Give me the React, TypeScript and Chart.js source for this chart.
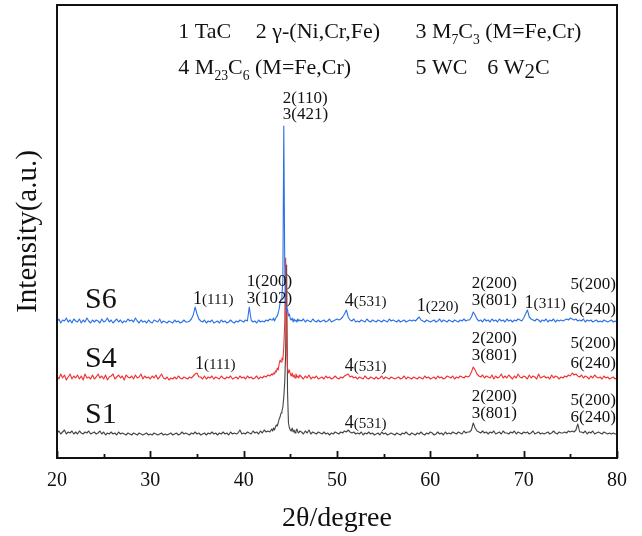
import React, { useEffect, useRef } from 'react';
import { Chart, registerables } from 'chart.js';

Chart.register(...registerables);

const FONT = '"Liberation Serif", "Times New Roman", serif';

// 2θ grid: 0.2° steps, refined to 0.1° around the main reflection
const GRID_SEGMENTS: [number, number, number][] = [
  [20, 43, 0.2],
  [43.1, 46, 0.1],
  [46.2, 80, 0.2],
];

// vertical offsets used to stack the patterns (a.u.)
const OFFSET_S6 = 133;
const OFFSET_S4 = 76;
const OFFSET_S1 = 21;

// ---- S6 (blue) ----
const S6_A = [
  3, 6, 2, 5, 4, 7, 3, 5, 2, 6, // 20.0-21.8
  4, 3, 6, 2, 5, 3, 7, 4, 2, 5, // 22.0-23.8
  3, 5, 4, 2, 6, 3, 4, 7, 3, 5, // 24.0-25.8
  2, 4, 6, 3, 5, 2, 4, 3, 6, 4, // 26.0-27.8
  5, 3, 7, 4, 2, 5, 3, 4, 2, 5, // 28.0-29.8
  3, 2, 5, 4, 3, 6, 2, 4, 3, 2, // 30.0-31.8
  4, 3, 2, 5, 3, 4, 2, 3, 5, 3, // 32.0-33.8
  3, 4, 6, 10, 18, 11, 6, 4, 3, 5, // 34.0-35.8
  2, 4, 3, 5, 2, 3, 4, 2, 5, 3, // 36.0-37.8
  4, 2, 3, 5, 3, 2, 4, 3, 5, 4, // 38.0-39.8
  3, 5, 4, 18, 5, 3, 4, 2, 5, 3, // 40.0-41.8
  4, 3, 5, 4, 6, 5, // 42.0-43.0
];
const S6_B = [
  5, 7, 4, 6, 8, 9, 12, 16, 22, 26, // 43.1-44.0
  30, 45, 199, 60, 22, 14, 16, 9, 11, 6, // 44.1-45.0
  5, 7, 3, 6, 4, 5, 3, 6, 4, 5, // 45.1-46.0
];
const S6_C = [
  4, 6, 3, 5, 4, 3, 6, 4, 3, 5, // 46.2-48.0
  3, 4, 5, 3, 4, 6, 3, 4, 5, 6, // 48.2-50.0
  5, 6, 8, 11, 15, 8, 5, 4, 6, 3, // 50.2-52.0
  4, 3, 5, 4, 3, 6, 4, 3, 5, 4, // 52.2-54.0
  3, 5, 4, 3, 5, 4, 3, 6, 4, 5, // 54.2-56.0
  4, 3, 5, 3, 4, 5, 3, 4, 5, 4, // 56.2-58.0
  5, 4, 6, 8, 5, 4, 3, 5, 4, 3, // 58.2-60.0
  4, 5, 3, 4, 6, 3, 5, 4, 3, 5, // 60.2-62.0
  4, 3, 5, 4, 3, 5, 4, 6, 4, 5, // 62.2-64.0
  5, 8, 13, 10, 6, 4, 5, 3, 6, 4, // 64.2-66.0
  5, 3, 6, 4, 5, 3, 6, 4, 5, 3, // 66.2-68.0
  6, 4, 5, 3, 5, 4, 6, 5, 4, 7, // 68.2-70.0
  11, 15, 8, 6, 5, 4, 6, 5, 3, 5, // 70.2-72.0
  4, 6, 3, 5, 4, 6, 3, 5, 4, 5, // 72.2-74.0
  4, 5, 6, 5, 7, 6, 5, 6, 4, 5, // 74.2-76.0
  4, 6, 3, 5, 4, 5, 3, 4, 5, 3, // 76.2-78.0
  4, 3, 5, 4, 3, 4, 5, 3, 4, 3, // 78.2-80.0
];

// ---- S4 (red) ----
const S4_A = [
  6, 3, 8, 4, 7, 2, 5, 8, 3, 6,
  4, 7, 3, 6, 2, 8, 4, 5, 3, 7,
  3, 5, 8, 4, 6, 3, 7, 2, 5, 6,
  8, 3, 5, 7, 4, 6, 2, 7, 5, 4,
  6, 3, 7, 4, 5, 8, 3, 6, 4, 5,
  3, 6, 4, 7, 3, 5, 8, 4, 3, 5,
  2, 4, 3, 5, 3, 6, 4, 3, 5, 4,
  3, 5, 4, 6, 8, 9, 5, 5, 3, 6,
  3, 5, 4, 6, 3, 5, 4, 3, 6, 4,
  3, 5, 4, 6, 3, 4, 5, 3, 6, 4,
  5, 3, 6, 4, 5, 3, 4, 6, 3, 5,
  4, 6, 5, 7, 6, 8,
];
const S4_B = [
  7, 9, 8, 11, 10, 14, 12, 18, 22, 20,
  24, 22, 35, 60, 124, 38, 14, 9, 12, 8,
  6, 9, 5, 7, 4, 8, 5, 6, 4, 7,
];
const S4_C = [
  5, 3, 6, 4, 7, 3, 5, 4, 6, 3,
  4, 5, 3, 6, 4, 5, 3, 4, 6, 4,
  3, 5, 4, 6, 7, 8, 5, 6, 4, 5,
  3, 5, 4, 3, 6, 4, 3, 5, 4, 3,
  5, 3, 4, 6, 3, 5, 4, 3, 5, 4,
  3, 4, 5, 3, 4, 6, 3, 5, 4, 3,
  5, 4, 3, 5, 4, 3, 6, 4, 5, 3,
  4, 5, 3, 6, 4, 5, 3, 4, 6, 5,
  4, 6, 3, 5, 4, 6, 5, 4, 6, 5,
  6, 10, 15, 12, 8, 6, 5, 7, 4, 6,
  5, 4, 7, 3, 6, 4, 5, 8, 4, 6,
  4, 7, 5, 3, 6, 4, 8, 5, 4, 6,
  5, 3, 7, 4, 6, 5, 3, 8, 4, 5,
  6, 4, 5, 3, 7, 4, 6, 5, 3, 5,
  4, 6, 5, 7, 6, 9, 7, 8, 6, 5,
  7, 4, 6, 5, 3, 6, 4, 7, 5, 4,
  5, 3, 6, 4, 5, 3, 4, 5, 3, 4,
];

// ---- S1 (black) ----
const S1_A = [
  4, 6, 3, 5, 7, 3, 5, 4, 6, 3,
  5, 3, 6, 4, 3, 5, 4, 6, 3, 4,
  5, 3, 4, 6, 3, 5, 2, 4, 3, 5,
  3, 4, 2, 5, 3, 4, 3, 2, 4, 3,
  2, 4, 3, 2, 4, 3, 2, 3, 4, 2,
  3, 2, 4, 3, 2, 3, 4, 2, 3, 2,
  3, 4, 2, 3, 4, 2, 3, 5, 3, 4,
  3, 2, 4, 3, 5, 3, 4, 2, 3, 4,
  2, 4, 3, 5, 3, 4, 2, 4, 3, 5,
  3, 4, 2, 5, 3, 4, 3, 4, 7, 3,
  4, 3, 5, 4, 3, 6, 4, 5, 3, 6,
  4, 7, 5, 6, 5, 8,
];
const S1_B = [
  6, 9, 7, 10, 12, 11, 14, 18, 20, 24,
  26, 30, 40, 55, 85, 172, 45, 14, 9, 7,
  6, 9, 5, 7, 4, 6, 8, 5, 4, 6,
];
const S1_C = [
  5, 3, 6, 4, 7, 3, 5, 4, 3, 5,
  4, 3, 5, 3, 4, 2, 4, 3, 5, 4,
  3, 5, 4, 6, 5, 7, 5, 4, 5, 3,
  4, 3, 5, 2, 4, 3, 5, 3, 4, 2,
  3, 4, 2, 5, 3, 4, 2, 3, 4, 3,
  2, 4, 3, 2, 4, 3, 5, 3, 2, 4,
  3, 2, 4, 3, 5, 3, 2, 4, 3, 5,
  4, 2, 3, 5, 3, 4, 2, 5, 3, 4,
  3, 5, 4, 3, 5, 4, 3, 6, 4, 5,
  5, 7, 14, 9, 6, 5, 4, 6, 4, 5,
  3, 5, 4, 6, 3, 4, 5, 3, 6, 4,
  4, 3, 5, 4, 6, 3, 5, 4, 3, 5,
  4, 5, 3, 4, 6, 3, 4, 5, 3, 4,
  3, 4, 5, 3, 4, 6, 4, 3, 5, 4,
  4, 5, 4, 6, 5, 6, 5, 7, 13, 5,
  5, 4, 6, 3, 5, 4, 6, 3, 4, 5,
  4, 3, 5, 4, 3, 4, 3, 4, 3, 3,
];

const MAJOR_TICKS = [20, 30, 40, 50, 60, 70, 80];
const MINOR_TICKS = [25, 35, 45, 55, 65, 75];

type Part = [string, 'n' | 's' | 'm' | 'S'];
// legend text (theta of left edge, level of vertical centre)
const LEGEND_ITEMS: { theta: number; level: number; parts: Part[] }[] = [
  { theta: 33.0, level: 427, parts: [['1 TaC', 'n']] },
  { theta: 41.3, level: 427, parts: [['2 γ-(Ni,Cr,Fe)', 'n']] },
  { theta: 58.4, level: 427, parts: [['3 M', 'n'], ['7', 's'], ['C', 'n'], ['3', 's'], [' (M=Fe,Cr)', 'n']] },
  { theta: 33.0, level: 391, parts: [['4 M', 'n'], ['23', 's'], ['C', 'n'], ['6', 's'], [' (M=Fe,Cr)', 'n']] },
  { theta: 58.4, level: 391, parts: [['5 WC', 'n']] },
  { theta: 66.1, level: 391, parts: [['6 W', 'n'], ['2', 'S'], ['C', 'n']] },
];

// peak labels: text, theta (left edge), level (centre), style
const PEAK_LABELS: [string, number, number, 'u' | 'd'][] = [
  ['2(110)', 44.2, 361, 'u'], ['3(421)', 44.2, 345, 'u'],
  ['1(111)', 34.56, 160, 'd'],
  ['1(200)', 40.34, 178, 'u'], ['3(102)', 40.34, 161, 'u'],
  ['4(531)', 50.84, 158, 'd'],
  ['1(220)', 58.54, 153, 'd'],
  ['2(200)', 64.43, 176, 'u'], ['3(801)', 64.43, 159, 'u'],
  ['1(311)', 70.1, 156, 'd'],
  ['5(200)', 75.03, 175, 'u'], ['6(240)', 75.03, 150, 'u'],
  ['1(111)', 34.78, 95, 'd'],
  ['4(531)', 50.84, 93, 'd'],
  ['2(200)', 64.43, 121, 'u'], ['3(801)', 64.43, 104, 'u'],
  ['5(200)', 75.03, 116, 'u'], ['6(240)', 75.03, 96, 'u'],
  ['4(531)', 50.84, 36, 'd'],
  ['2(200)', 64.43, 63, 'u'], ['3(801)', 64.43, 46, 'u'],
  ['5(200)', 75.03, 59, 'u'], ['6(240)', 75.03, 42, 'u'],
];

const SAMPLE_LABELS: [string, number, number][] = [
  ['S6', 23.0, 160],
  ['S4', 23.0, 101],
  ['S1', 23.0, 45],
];

function buildGrid(): number[] {
  const out: number[] = [];
  for (const [a, b, s] of GRID_SEGMENTS) {
    const n = Math.round((b - a) / s) + 1;
    for (let i = 0; i < n; i++) out.push(Math.round((a + i * s) * 10) / 10);
  }
  return out;
}

function toPoints(grid: number[], vals: number[], off: number) {
  const n = Math.min(grid.length, vals.length);
  const pts = [];
  for (let i = 0; i < n; i++) pts.push({ x: grid[i], y: vals[i] + off });
  return pts;
}

function drawRich(ctx: CanvasRenderingContext2D, x: number, yc: number, parts: Part[], size: number) {
  let cx = x;
  const base = yc + size * 0.33;
  for (const [t, k] of parts) {
    let fs = size;
    let dy = 0;
    if (k === 's') { fs = size * 0.62; dy = size * 0.25; }
    else if (k === 'S') { fs = size * 0.95; dy = size * 0.18; }
    else if (k === 'm') { fs = size * 0.84; }
    ctx.font = `${fs}px ${FONT}`;
    ctx.fillText(t, cx, base + dy);
    cx += ctx.measureText(t).width;
  }
}

const overlayPlugin = {
  id: 'overlay',
  afterDraw(chart: any) {
    const { ctx, chartArea: a, scales } = chart;
    const xs = scales.x;
    const ys = scales.y;
    ctx.save();
    ctx.strokeStyle = '#111';
    ctx.lineWidth = 2;
    ctx.strokeRect(a.left, a.top, a.right - a.left, a.bottom - a.top);
    ctx.lineWidth = 1.8;
    ctx.beginPath();
    for (const v of MAJOR_TICKS) {
      const px = Math.round(xs.getPixelForValue(v)) + 0.5;
      ctx.moveTo(px, a.bottom);
      ctx.lineTo(px, a.bottom - 7);
    }
    for (const v of MINOR_TICKS) {
      const px = Math.round(xs.getPixelForValue(v)) + 0.5;
      ctx.moveTo(px, a.bottom);
      ctx.lineTo(px, a.bottom - 4);
    }
    ctx.stroke();

    ctx.fillStyle = '#111';
    ctx.textAlign = 'left';
    ctx.textBaseline = 'alphabetic';
    for (const it of LEGEND_ITEMS) {
      drawRich(ctx, xs.getPixelForValue(it.theta), ys.getPixelForValue(it.level), it.parts, 22);
    }
    for (const [t, th, lv, st] of PEAK_LABELS) {
      const parts: Part[] = st === 'u' ? [[t, 'n']] : [[t.slice(0, 1), 'n'], [t.slice(1), 'm']];
      drawRich(ctx, xs.getPixelForValue(th), ys.getPixelForValue(lv), parts, st === 'u' ? 17 : 18);
    }
    for (const [t, th, lv] of SAMPLE_LABELS) {
      drawRich(ctx, xs.getPixelForValue(th), ys.getPixelForValue(lv), [[t, 'n']], 30);
    }
    ctx.restore();
  },
};

export default function App() {
  const ref = useRef<HTMLCanvasElement | null>(null);
  useEffect(() => {
    if (!ref.current) return;
    const grid = buildGrid();
    const chart = new Chart(ref.current, {
      type: 'line',
      data: {
        datasets: [
          { label: 'S6', data: toPoints(grid, [...S6_A, ...S6_B, ...S6_C], OFFSET_S6), borderColor: '#2a72e6', borderWidth: 1.1, pointRadius: 0, tension: 0 },
          { label: 'S4', data: toPoints(grid, [...S4_A, ...S4_B, ...S4_C], OFFSET_S4), borderColor: '#f03232', borderWidth: 1.1, pointRadius: 0, tension: 0 },
          { label: 'S1', data: toPoints(grid, [...S1_A, ...S1_B, ...S1_C], OFFSET_S1), borderColor: '#444444', borderWidth: 1.1, pointRadius: 0, tension: 0 },
        ],
      },
      options: {
        animation: false,
        responsive: false,
        maintainAspectRatio: false,
        layout: { padding: { top: 5, right: 25, left: 0, bottom: 0 } },
        plugins: { legend: { display: false }, tooltip: { enabled: false } },
        elements: { line: { borderJoinStyle: 'round' } },
        scales: {
          x: {
            type: 'linear',
            min: 20,
            max: 80,
            ticks: { stepSize: 10, color: '#111', font: { family: FONT, size: 20 }, padding: 11, maxRotation: 0, autoSkip: false },
            grid: { display: false, drawTicks: false },
            border: { display: false },
            title: { display: true, text: '2θ/degree', color: '#111', font: { family: FONT, size: 28 }, padding: { top: 0, bottom: 1 } },
            afterFit: (s: any) => { s.height = 78; },
          },
          y: {
            min: 0,
            max: 453,
            ticks: { display: false },
            grid: { display: false, drawTicks: false },
            border: { display: false },
            title: { display: true, text: 'Intensity(a.u.)', color: '#111', font: { family: FONT, size: 29 }, padding: { top: 11, bottom: 0 } },
            afterFit: (s: any) => { s.width = 57; },
          },
        },
      } as any,
      plugins: [overlayPlugin],
    });
    return () => chart.destroy();
  }, []);
  return (
    <div style={{ position: 'fixed', left: 0, top: 0, width: 642, height: 536, background: '#fff' }}>
      <canvas ref={ref} width={642} height={536} style={{ display: 'block', width: 642, height: 536 }} />
    </div>
  );
}
